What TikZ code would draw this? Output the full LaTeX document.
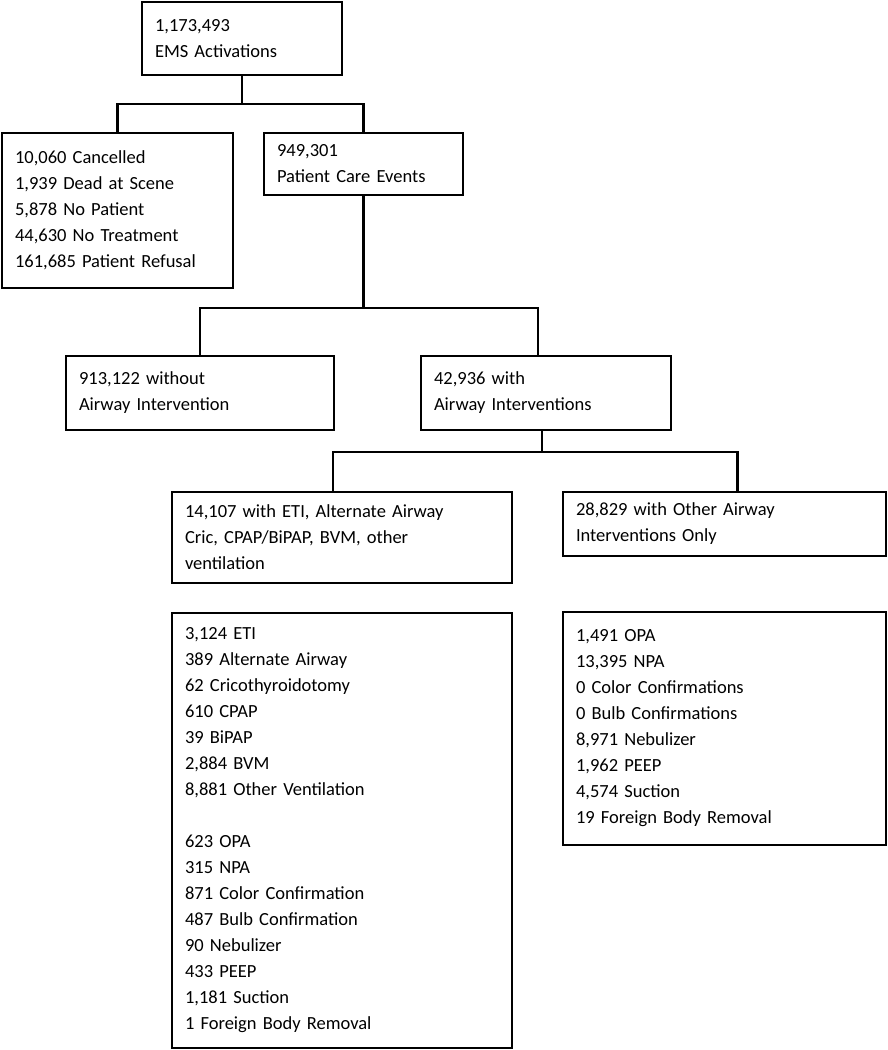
\documentclass[tikz,border=0pt]{standalone}
\usepackage{fontspec}
\setmainfont{Carlito}

\begin{document}
\begin{tikzpicture}[%
        x = 1pt, y = -1pt,
        box/.style = {draw, rectangle, line width=2.4pt, anchor=north west,
          align=left, inner xsep=13pt, inner ysep=2pt, outer sep=0pt,
          font=\fontsize{18.5}{26}\selectfont},
        link/.style = {line width=2.4pt}
    ]
      \useasboundingbox (0,0) rectangle (888,1050);
      % boxes
      \node[box, text width=174pt, minimum height=73pt] (act) at (142,2)
        {1,173,493\\EMS Activations};
      \node[box, text width=205pt, minimum height=155pt] (excl) at (2,133)
        {10,060 Cancelled\\1,939 Dead at Scene\\5,878 No Patient\\44,630 No Treatment\\161,685 Patient Refusal};
      \node[box, text width=173pt, minimum height=62pt] (pce) at (264,133)
        {949,301\\Patient Care Events};
      \node[box, text width=242pt, minimum height=74pt] (noair) at (66,356)
        {913,122 without\\Airway Intervention};
      \node[box, text width=224pt, minimum height=74pt] (air) at (421,356)
        {42,936 with\\Airway Interventions};
      \node[box, text width=314pt, minimum height=91pt] (eti) at (172,492)
        {14,107 with ETI, Alternate Airway\\Cric, CPAP/BiPAP, BVM, other\\ventilation};
      \node[box, text width=297pt, minimum height=64pt] (other) at (563,492)
        {28,829 with Other Airway\\Interventions Only};
      \node[box, text width=314pt, minimum height=435pt] (etilist) at (172,613)
        {3,124 ETI\\389 Alternate Airway\\62 Cricothyroidotomy\\610 CPAP\\39 BiPAP\\2,884 BVM\\8,881 Other Ventilation\\[26pt]
         623 OPA\\315 NPA\\871 Color Confirmation\\487 Bulb Confirmation\\90 Nebulizer\\433 PEEP\\1,181 Suction\\1 Foreign Body Removal};
      \node[box, text width=297pt, minimum height=233pt] (otherlist) at (563,612)
        {1,491 OPA\\13,395 NPA\\0 Color Confirmations\\0 Bulb Confirmations\\8,971 Nebulizer\\1,962 PEEP\\4,574 Suction\\19 Foreign Body Removal};
      % connectors
      \coordinate (bus1) at (0,104);
      \coordinate (bus2) at (0,308);
      \coordinate (bus3) at (0,452);
      \coordinate (airin) at ([xshift=-8pt]air.north);
      \coordinate (airout) at ([xshift=-4pt]air.south);
      \coordinate (etiin) at ([xshift=-9pt]eti.north);
      \coordinate (otherin) at ([xshift=13pt]other.north);
      \draw[link] (act.south) -- (act.south |- bus1) -| (excl.north);
      \draw[link] (act.south |- bus1) -| (pce.north);
      \draw[link] (pce.south) -- (pce.south |- bus2) -| (noair.north);
      \draw[link] (pce.south |- bus2) -| (airin);
      \draw[link] (airout) -- (airout |- bus3) -| (etiin);
      \draw[link] (airout |- bus3) -| (otherin);
    \end{tikzpicture}
\end{document}
